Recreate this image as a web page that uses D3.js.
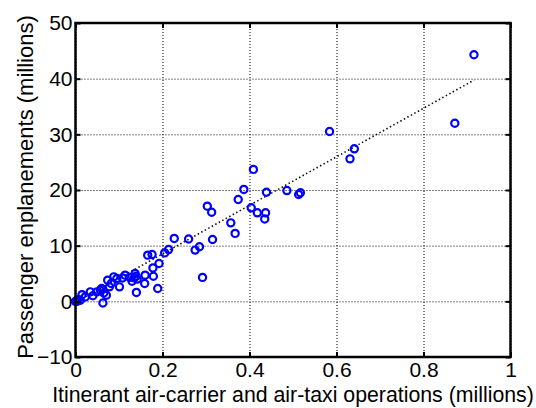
<!DOCTYPE html>
<html>
<head>
<meta charset="utf-8">
<script src="https://cdn.jsdelivr.net/npm/d3@7"></script>
<style>
  body { margin: 0; background: #fff; }
  svg { display: block; font-family: "Liberation Sans", Arial, sans-serif; }
</style>
</head>
<body>
<div id="chart"></div>
<script>
// operations (millions) and enplanements (millions)
var operations = [0.916, 0.872, 0.584, 0.641, 0.631, 0.486, 0.513, 0.517, 0.439, 0.409,
    0.387, 0.374, 0.404, 0.418, 0.437, 0.435, 0.357, 0.367, 0.303, 0.313,
    0.315, 0.275, 0.285, 0.292, 0.260, 0.227, 0.214, 0.205, 0.192, 0.178,
    0.179, 0.189, 0.176, 0.166, 0.159, 0.160, 0.140, 0.137, 0.139, 0.142,
    0.130, 0.135, 0.125, 0.114, 0.108, 0.101, 0.095, 0.088, 0.082, 0.074,
    0.078, 0.063, 0.057, 0.071, 0.065, 0.060, 0.049, 0.034, 0.040, 0.0225,
    0.015, 0.011, 0.003, 0.006, 0.0];
var enplanements = [44.3, 32.0, 30.5, 27.4, 25.6, 19.9, 19.2, 19.5, 19.6, 23.7,
    20.1, 18.3, 16.8, 15.9, 15.9, 14.8, 14.1, 12.2, 17.1, 16.0,
    11.1, 9.2, 9.8, 4.3, 11.2, 11.3, 9.3, 8.7, 6.8, 6.0,
    4.5, 2.3, 8.4, 8.3, 3.2, 4.7, 1.6, 5.0, 4.5, 4.0,
    3.6, 4.2, 4.3, 4.7, 4.2, 2.6, 4.1, 4.4, 3.2, 3.8,
    2.6, -0.3, 2.0, 1.1, 1.5, 2.3, 1.7, 1.7, 1.0, 0.8,
    1.2, 0.2, 0.0, 0.3, 0.0];

// least squares line drawn between these x values
var fitRange = [0, 0.916];
var fitIntercept = -0.2;
var fitSlope = 43.6;

var xTicks = [0, 0.2, 0.4, 0.6, 0.8, 1];
var yTicks = [-10, 0, 10, 20, 30, 40, 50];
var xLabel = "Itinerant air-carrier and air-taxi operations (millions)";
var yLabel = "Passenger enplanements (millions)";

var W = 536, H = 408;
var plotL = 75.5, plotR = 510.5, plotT = 23, plotB = 357;

var svg = d3.select("#chart").append("svg")
    .attr("width", W)
    .attr("height", H);

var x = d3.scaleLinear().domain([0, 1]).range([plotL, plotR]);
var y = d3.scaleLinear().domain([-10, 50]).range([plotB, plotT]);

// dotted grid
svg.append("g")
    .attr("transform", "translate(0," + plotB + ")")
    .call(d3.axisBottom(x).tickValues(xTicks).tickSize(-(plotB - plotT)).tickFormat(""))
    .call(function(g) {
        g.select(".domain").remove();
        g.selectAll("line").attr("stroke", "#000").attr("stroke-dasharray", "1,2");
    });
svg.append("g")
    .attr("transform", "translate(" + plotL + ",0)")
    .call(d3.axisLeft(y).tickValues(yTicks).tickSize(-(plotR - plotL)).tickFormat(""))
    .call(function(g) {
        g.select(".domain").remove();
        g.selectAll("line").attr("stroke", "#000").attr("stroke-dasharray", "1,2");
    });

// regression line
svg.append("line")
    .attr("x1", x(fitRange[0]))
    .attr("y1", y(fitIntercept + fitSlope * fitRange[0]))
    .attr("x2", x(fitRange[1]))
    .attr("y2", y(fitIntercept + fitSlope * fitRange[1]))
    .attr("stroke", "#111")
    .attr("stroke-width", 1.6)
    .attr("stroke-dasharray", "1.5,2.5");

// points
svg.append("g").selectAll("circle")
    .data(operations)
    .enter()
    .append("circle")
    .attr("cx", function(d) { return x(d); })
    .attr("cy", function(d, i) { return y(enplanements[i]); })
    .attr("r", 3.6)
    .attr("fill", "none")
    .attr("stroke", "#0000ff")
    .attr("stroke-width", 2.2);

// axes, ticks pointing inward like matlab
function styleAxis(g) {
    g.select(".domain").remove();
    g.selectAll("line").attr("stroke", "#000").attr("stroke-width", 2);
    g.selectAll("text").attr("fill", "#000").style("font-size", "21px")
        .style("font-family", "'Liberation Sans', Arial, sans-serif");
}

svg.append("g")
    .attr("transform", "translate(0," + plotB + ")")
    .call(d3.axisBottom(x).tickValues(xTicks).tickSize(-5).tickPadding(5)
        .tickFormat(function(d) { return d; }))
    .call(styleAxis);
svg.append("g")
    .attr("transform", "translate(" + plotL + ",0)")
    .call(d3.axisLeft(y).tickValues(yTicks).tickSize(-5).tickPadding(3))
    .call(styleAxis);
svg.append("g")
    .attr("transform", "translate(0," + plotT + ")")
    .call(d3.axisTop(x).tickValues(xTicks).tickSize(-5).tickFormat(""))
    .call(styleAxis);
svg.append("g")
    .attr("transform", "translate(" + plotR + ",0)")
    .call(d3.axisRight(y).tickValues(yTicks).tickSize(-5).tickFormat(""))
    .call(styleAxis);

// box
svg.append("rect")
    .attr("x", plotL)
    .attr("y", plotT)
    .attr("width", plotR - plotL)
    .attr("height", plotB - plotT)
    .attr("fill", "none")
    .attr("stroke", "#000")
    .attr("stroke-width", 2.5);

// axis labels
svg.append("text")
    .attr("x", (plotL + plotR) / 2)
    .attr("y", 402)
    .attr("text-anchor", "middle")
    .style("font-size", "21.3px")
    .text(xLabel);

svg.append("text")
    .attr("transform", "translate(33,187) rotate(-90)")
    .attr("text-anchor", "middle")
    .style("font-size", "22px")
    .text(yLabel);
</script>
</body>
</html>
